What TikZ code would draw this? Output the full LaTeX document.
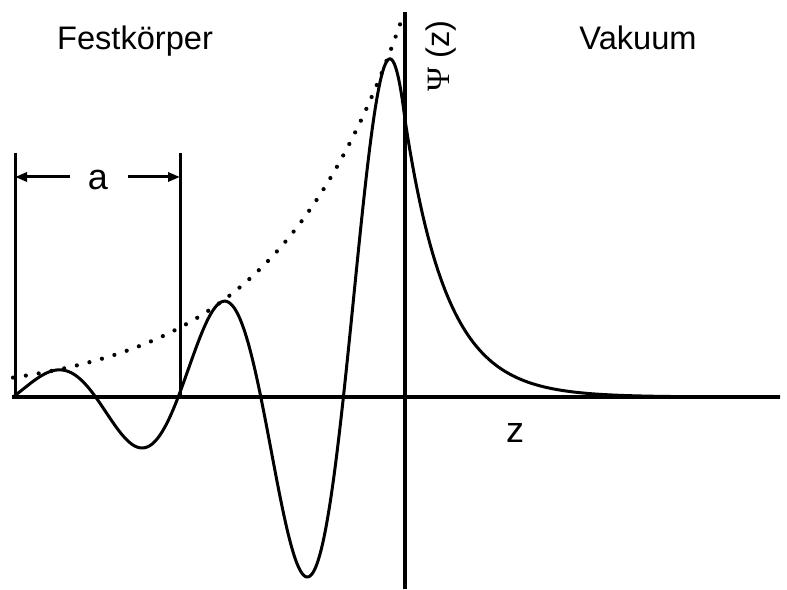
\documentclass[tikz,border=0pt]{standalone}
\usepackage{fontspec}
\setmainfont{Liberation Sans}
\newfontfamily\psifont{Liberation Serif}
\usetikzlibrary{arrows.meta}
\tikzset{
  axisline/.style={line width=4pt},
  waveline/.style={line width=3pt, line join=round},
  envline/.style={line width=4.2pt, line cap=round, dash pattern=on 0pt off 13pt},
  dimline/.style={line width=3pt},
  dimarrow/.style={line width=3pt, -{Triangle[length=12pt,width=9pt]}},
  bigtext/.style={font=\fontsize{32.6}{36}\selectfont, inner sep=0pt},
  lbltext/.style={font=\fontsize{36}{40}\selectfont, inner sep=0pt}
}
\begin{document}
\begin{tikzpicture}[x=1pt,y=1pt]
\useasboundingbox (0,0) rectangle (787,589);
% axes
\coordinate (xl) at (12,192);
\coordinate (xr) at (780,192);
\coordinate (yb) at (405,0);
\coordinate (yt) at (405,577);
\draw[axisline] (xl) -- (xr);
\draw[axisline] (yb) -- (yt);
% envelope
\draw[envline] plot[domain=13:404, samples=200] (\x, {192 + 387*exp((\x-405)/131)});
% wave function
\draw[waveline] plot[domain=13:405, samples=300] (\x, {192 + 387*exp((\x-405)/131)*sin((\x-13)*2.17918)})
  -- plot[domain=405:780, samples=150] (\x, {192 + 277.3*exp(-(\x-405)/42)});
% dimension a
\coordinate (d1b) at (15,192);
\coordinate (d1t) at (15,436);
\coordinate (d2b) at (180,192);
\coordinate (d2t) at (180,436);
\draw[dimline] (d1b) -- (d1t);
\draw[dimline] (d2b) -- (d2t);
\node[lbltext, anchor=base] (alabel) at (98,399) {a};
\coordinate (a1s) at (70,412);
\coordinate (a1e) at (15,412);
\coordinate (a2s) at (128,412);
\coordinate (a2e) at (180,412);
\draw[dimarrow] (a1s) -- (a1e);
\draw[dimarrow] (a2s) -- (a2e);
% labels
\node[bigtext, anchor=base] (fest) at (135,539) {Festkörper};
\node[bigtext, anchor=base] (vak) at (638,539) {Vakuum};
\node[lbltext, anchor=base] (zlabel) at (515,146) {z};
\node[bigtext, rotate=90] (psi) at (441,533) {{\psifont Ψ} (z)};
\end{tikzpicture}
\end{document}
